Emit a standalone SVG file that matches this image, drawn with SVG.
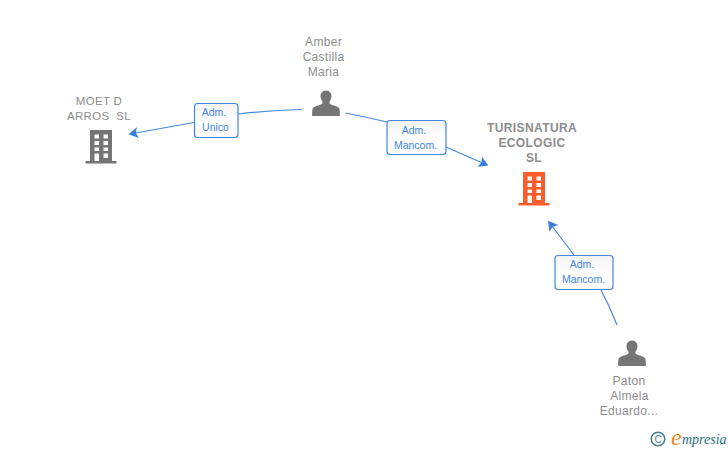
<svg xmlns="http://www.w3.org/2000/svg" width="728" height="450" viewBox="0 0 728 450">
<defs>
<linearGradient id="lb" x1="0" y1="0" x2="0" y2="1"><stop offset="0" stop-color="#f1f1f1"/><stop offset="0.5" stop-color="#ffffff"/><stop offset="1" stop-color="#fafafa"/></linearGradient>
<marker id="arr" markerUnits="userSpaceOnUse" markerWidth="12" markerHeight="12" refX="8" refY="5.5" orient="auto"><path d="M0 0 L9.5 5.5 L0 11 L2 5.5 Z" fill="#3a7fdc"/></marker>
<g id="person"><path d="M0 -14.500 C-4.600 -14.500 -6 -10.500 -5.300 -7.500 C-5 -5.800 -4.400 -4.500 -3.600 -3.500 C-3.300 -2.400 -3.400 -1.600 -4 -1 C-6.500 0.300 -12 1.200 -13.300 3.500 C-13.800 5 -13.900 8 -13.900 11 L13.900 11 C13.900 8 13.800 5 13.300 3.500 C12 1.200 6.500 0.300 4 -1 C3.400 -1.600 3.300 -2.400 3.600 -3.500 C4.400 -4.500 5 -5.800 5.300 -7.500 C6 -10.500 4.600 -14.500 0 -14.500 Z"/></g>
<path id="bld" fill-rule="evenodd" d="M-11 -17 H11 V14 H15.500 V16.500 H-15.500 V14 H-11 Z M-6.500 -12.500 V-8.500 H-2 V-12.500 Z M2.500 -12.500 V-8.500 H7 V-12.500 Z M-6.500 -6 V-2 H-2 V-6 Z M2.500 -6 V-2 H7 V-6 Z M-6.500 0.500 V4 H-2 V0.500 Z M2.500 0.500 V4 H7 V0.500 Z M-6.500 6.500 V14 H-2 V6.500 Z M2.500 6.500 V11 H7 V6.500 Z"/>
</defs>
<style>
.n{font-family:"Liberation Sans",Arial,sans-serif;font-size:12px;fill:#8c8c8c;text-anchor:middle;letter-spacing:0.3px;white-space:pre}
.b{font-weight:bold;letter-spacing:0.4px}
.s{font-size:11.500px}
.c{fill:none;stroke:#4488e0;stroke-width:1.200}
.lb{fill:url(#lb);stroke:#4488e0;stroke-width:1.200}
.lt{font-family:"Liberation Sans",Arial,sans-serif;font-size:10.500px;fill:#4488e0;text-anchor:middle}
</style>
<g id="connectors">
<path class="c" d="M302 109.500 Q268 110.500 238 114"/>
<path class="c" d="M194 122.500 L130 134" marker-end="url(#arr)"/>
<path class="c" d="M345.500 113 Q366 117 387 122"/>
<path class="c" d="M446 147 L487 165" marker-end="url(#arr)"/>
<path class="c" d="M617 325 Q610 307 601 290"/>
<path class="c" d="M574 255 L549 222" marker-end="url(#arr)"/>
</g>
<g id="node-moet">
<text class="n s" x="99" y="105">MOET D</text>
<text class="n s" x="99" y="120">ARROS  SL</text>
<use href="#bld" x="101" y="147" fill="#757575"/>
</g>
<g id="node-amber">
<text class="n" x="323.500" y="46">Amber</text>
<text class="n" x="323.500" y="61">Castilla</text>
<text class="n" x="323.500" y="76">Maria</text>
<use href="#person" x="326" y="105" fill="#757575"/>
</g>
<g id="node-turisnatura">
<text class="n b" x="532" y="132">TURISNATURA</text>
<text class="n b" x="532" y="147">ECOLOGIC</text>
<text class="n b" x="534" y="162">SL</text>
<use href="#bld" x="534" y="189" fill="#ff5c2b"/>
</g>
<g id="node-paton">
<text class="n" x="629" y="385">Paton</text>
<text class="n" x="629.500" y="400">Almela</text>
<text class="n" x="629" y="415">Eduardo...</text>
<use href="#person" x="632" y="355" fill="#757575"/>
</g>
<g id="label-unico">
<rect class="lb" x="194.500" y="103.500" width="43.500" height="34" rx="3"/>
<text class="lt" x="214" y="116">Adm.</text>
<text class="lt" x="215.500" y="131">Unico</text>
</g>
<g id="label-mancom1">
<rect class="lb" x="387" y="120.500" width="59" height="34" rx="3"/>
<text class="lt" x="414" y="134">Adm.</text>
<text class="lt" x="415.500" y="149">Mancom.</text>
</g>
<g id="label-mancom2">
<rect class="lb" x="555" y="255.500" width="58" height="34" rx="3"/>
<text class="lt" x="582" y="268">Adm.</text>
<text class="lt" x="583.500" y="283">Mancom.</text>
</g>
<g id="brand">
<circle cx="658" cy="439" r="6.800" fill="none" stroke="#3f7f8f" stroke-width="1.500"/>
<text x="658" y="442.500" font-family="'Liberation Sans',sans-serif" font-size="10" fill="#3f7f8f" text-anchor="middle">C</text>
<text x="671" y="445" font-family="'Liberation Serif',serif" font-style="italic" font-size="24" fill="#f08a1d">e</text>
<text x="682" y="444" font-family="'Liberation Serif',serif" font-style="italic" font-size="14" fill="#1f6f80">mpresia</text>
</g>
</svg>
